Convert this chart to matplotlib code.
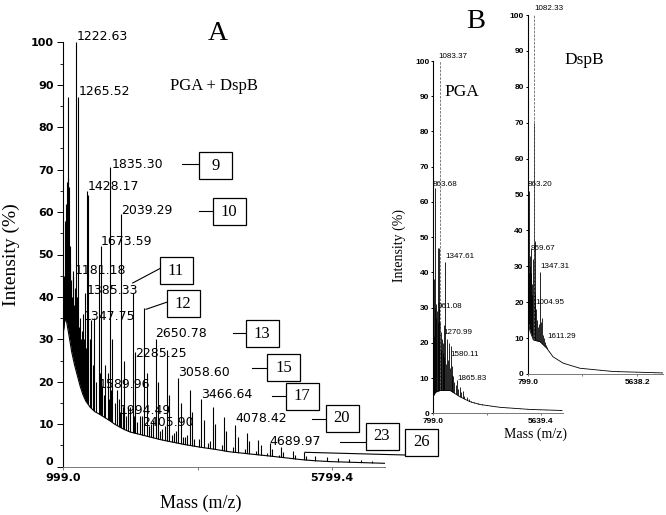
import matplotlib
matplotlib.use('Agg')
import matplotlib.pyplot as plt
import matplotlib.transforms as mtransforms
from matplotlib.patches import Rectangle
from matplotlib.lines import Line2D

# ---------------------------------------------------------------------------
# Data
# Panel A (PGA + DspB): peak m/z and intensity (%)
a_peak_mz = [1010, 1025, 1040, 1052, 1065, 1078, 1090, 1100, 1112, 1125,
             1140, 1155, 1168, 1181.18, 1195, 1208, 1222.63, 1238, 1252, 1265.52,
             1280, 1295, 1310, 1325, 1347.75, 1365, 1385.33, 1405, 1428.17, 1442,
             1468, 1495, 1525, 1553, 1589.96, 1628.8, 1650, 1673.59, 1700, 1728,
             1753, 1790, 1812, 1835.30, 1860, 1876, 1915, 1957, 1994.49, 2015,
             2039.29, 2060, 2079, 2120, 2160, 2197, 2242.5, 2265, 2285.25, 2325,
             2363, 2405.90, 2446, 2488, 2530, 2566, 2608, 2650.78, 2691, 2735,
             2770, 2812, 2854, 2895, 2935, 2975, 3016, 3058.60, 3100, 3140,
             3180, 3220, 3262, 3303, 3345, 3425, 3466.64, 3508, 3590, 3630,
             3670, 3711, 3834, 3874, 3915, 4038, 4078.42, 4120, 4242, 4282,
             4323, 4446, 4486, 4527, 4650, 4689.97, 4730, 4853, 4894, 4935,
             5098, 5140, 5301, 5342, 5505, 5709, 5913, 6117, 6321, 6525]
a_peak_int = [45, 58, 50, 62, 67, 87, 68, 66, 52, 48,
              44, 40, 46, 45, 38, 42, 100, 36, 40, 87,
              33, 35, 30, 32, 36, 30, 41, 28, 65, 64,
              30, 34.5, 24, 35, 20, 47.5, 22, 52, 19, 17,
              24, 22, 16, 70.5, 18, 30, 15, 18, 16, 13,
              59.5, 14, 25, 12, 14, 14, 41, 12, 27, 10.5,
              12, 12, 37.5, 22, 9.5, 10, 11, 30, 20, 8.5,
              9, 9.5, 27.5, 17, 7.5, 8, 8.5, 21, 15, 7,
              7, 7.5, 18, 13, 6.5, 6.5, 16, 11, 5.5, 6,
              14, 10, 5.2, 11.8, 8.5, 4.6, 9.8, 7, 4.2, 8,
              6, 3.6, 6.3, 5, 3.2, 5.5, 4.2, 2.8, 4.6, 3.5,
              3.6, 2.8, 3.4, 2.5, 2.6, 2.3, 2.0, 1.8, 1.6, 1.4]
a_base_mz = [999, 1003, 1030, 1060, 1100, 1150, 1200, 1260, 1300, 1350, 1400, 1480,
             1560, 1655, 1750, 1835, 1920, 2015, 2100, 2190, 2370, 2550, 2730, 2910,
             3180, 3445, 3710, 3980, 4340, 4700, 4970, 5230, 5500, 5770, 6250, 6750]
a_base_int = [0, 32, 35, 34, 31, 27, 24, 21, 19, 17, 15.5, 14,
              13, 12.3, 11.5, 10.8, 10, 9.3, 8.7, 8.2, 7.6, 7, 6.4, 5.9,
              5.2, 4.6, 4.1, 3.5, 3, 2.5, 2.1, 1.7, 1.4, 1.2, 1, 0.8]
a_labels = ['1222.63', '1265.52', '1835.30', '1428.17', '2039.29', '1673.59',
            '1181.18', '1385.33', '1347.75', '2650.78', '2285.25', '3058.60',
            '1589.96', '3466.64', '1994.49', '4078.42', '2405.90', '4689.97']
a_boxes = ['9', '10', '11', '12', '13', '15', '17', '20', '23', '26']

# Panel B, PGA
pga_peak_mz = [820, 845, 863.68, 880, 910, 940, 961.08, 990, 1020, 1040,
               1060, 1105, 1130, 1160, 1190, 1220, 1250, 1270.99, 1300, 1347.61,
               1380, 1420, 1460, 1500, 1540, 1580.11, 1620, 1660, 1700, 1750,
               1800, 1865.83, 1920, 1980, 2050, 2120, 2200, 2300, 2400, 2500,
               2650, 2800, 3000, 3200, 3400, 3600, 3850, 4100, 4400, 4700,
               5000, 5300, 5600, 5900, 6200, 6500]
pga_peak_int = [22, 38, 64, 30, 27, 31, 29, 26, 47, 47,
                30, 26, 23, 18, 21, 17, 20, 25, 16, 43,
                14, 21, 15, 20, 13, 19, 13.5, 11, 10.5, 9,
                8, 9.5, 7, 7.5, 6, 6.2, 5, 4.6, 4, 3.6,
                3.2, 3, 2.5, 2.3, 2.1, 1.9, 1.7, 1.6, 1.4, 1.3,
                1.2, 1.1, 1, 1, 0.9, 0.9]
pga_top_mz = [1083.37]
pga_top_int = [100]
pga_base_mz = [799, 805, 900, 1100, 1550, 2000, 2450, 2900, 3800, 5150, 6600]
pga_base_int = [0, 5, 6, 6.5, 6.5, 4.7, 3.3, 2.5, 1.7, 1.1, 0.8]
pga_labels = ['1083.37', '863.68', '1347.61', '961.08', '1270.99', '1580.11', '1865.83']

# Panel B, DspB
dsp_peak_mz = [815, 840, 863.20, 885, 915, 940, 959.67, 985, 1004.95, 1030,
               1060, 1090, 1100, 1130, 1160, 1200, 1240, 1290, 1347.31, 1380,
               1420, 1460, 1500, 1550, 1611.29, 1660, 1720, 1800, 1880, 1960,
               2050, 2150, 2300, 2450, 2600, 2800, 3000, 3300, 3600, 4000,
               4400, 4800, 5200, 5600, 6000, 6400, 6700]
dsp_peak_int = [20, 28, 51, 30, 33, 28, 35, 25, 22, 32,
                26, 70, 37, 22.5, 18, 15, 13, 14, 28.5, 14.6,
                15.6, 11, 10, 9, 8, 7.5, 6.5, 5.5, 5, 4.5,
                4, 3.5, 3, 2.6, 2.3, 2, 1.7, 1.4, 1.2, 1,
                0.8, 0.7, 0.6, 0.5, 0.5, 0.4, 0.4]
dsp_top_mz = [1082.33]
dsp_top_int = [100]
dsp_base_mz = [799, 808, 900, 1046, 1342, 1638, 1916, 2371, 3108, 4565, 6770]
dsp_base_int = [0, 15, 12, 9.5, 9, 7.2, 4.8, 3, 1.6, 0.7, 0.3]
dsp_labels = ['1082.33', '863.20', '959.67', '1347.31', '1004.95', '1611.29']

# ---------------------------------------------------------------------------
W, H = 666, 515
fig = plt.figure(figsize=(W / 100, H / 100), dpi=100)
fig.patch.set_facecolor('white')
# pixel coordinates, origin top-left
px = mtransforms.Affine2D().scale(1.0 / W, -1.0 / H).translate(0, 1) + fig.transFigure

SERIF = 'Liberation Serif'


def rect(l, t, r, b):
    return [l / W, 1 - b / H, (r - l) / W, (b - t) / H]


def spectrum(ax, mz, inten, base_mz, base_int, lw):
    ax.vlines(mz, 0, inten, colors='black', lw=lw, zorder=2)
    ax.fill_between(base_mz, 0, base_int, color='white', lw=0, zorder=3)
    ax.plot(base_mz, base_int, color='black', lw=lw, zorder=4)


def style(ax, xlim, xticks, xticklabels, family, size, ylen, ypad, xlen, xpad):
    ax.set_xlim(*xlim)
    ax.set_ylim(0, 100)
    ax.patch.set_visible(False)
    for s in ['top', 'right']:
        ax.spines[s].set_visible(False)
    ax.spines['left'].set_zorder(6)
    ax.spines['bottom'].set_zorder(6)
    ax.spines['left'].set_linewidth(0.8)
    ax.spines['bottom'].set_linewidth(0.7)
    ax.spines['bottom'].set_color('#777777')
    ax.set_yticks(range(0, 101, 10))
    ax.set_yticklabels([str(v) for v in range(0, 101, 10)])
    ax.set_xticks(xticks)
    ax.set_xticklabels(xticklabels)
    ax.tick_params(axis='y', length=ylen, width=0.7, pad=ypad)
    ax.tick_params(axis='x', length=xlen, width=0.7, pad=xpad, color='#777777')
    for t in ax.get_xticklabels() + ax.get_yticklabels():
        t.set_fontfamily(family)
        t.set_fontweight('bold')
        t.set_fontsize(size)


# ---------------- Panel A ----------------
axA = fig.add_axes(rect(63.3, 42.3, 385, 466.7))
spectrum(axA, a_peak_mz, a_peak_int, a_base_mz, a_base_int, 0.8)
style(axA, (999.0, 6752), [999.0, 3399.2, 5799.4], ['999.0', '', '5799.4'],
      'DejaVu Sans', 8, 4, 3, 2, 2.5)
axA.set_yticks(range(5, 100, 10), minor=True)
axA.tick_params(axis='y', which='minor', length=2, width=0.6)
# shift the "0" label up a touch so it clears "999.0" below it
axA.get_yticklabels()[0].set_verticalalignment('bottom')

fig.text(218, 34, 'A', transform=px, family=SERIF, fontsize=20, ha='center', va='center')
fig.text(213.5, 86, 'PGA + DspB', transform=px, family=SERIF, fontsize=12,
         ha='center', va='center')
fig.text(11, 255, 'Intensity (%)', transform=px, family=SERIF, fontsize=14,
         ha='center', va='center', rotation=90)
fig.text(201, 503, 'Mass (m/z)', transform=px, family=SERIF, fontsize=13,
         ha='center', va='center')

a_label_pos = [(77, 36.5), (79, 91.7), (111.7, 164), (88, 186.7), (121, 210.3),
               (101, 241.7), (75, 271), (86.7, 291), (83.3, 316.7), (155, 333.7),
               (135, 353.7), (178.3, 372.8), (99, 384.7), (200.7, 394.7), (120, 410),
               (235, 419), (141.7, 422), (269.3, 441.3)]
for s, (x, y) in zip(a_labels, a_label_pos):
    fig.text(x, y, s, transform=px, family='DejaVu Sans', fontsize=9,
             ha='left', va='center', zorder=7)

box_centers = [(215.5, 165), (229, 211), (176, 270.5), (183, 303), (262, 333.5),
               (283.5, 367.5), (302, 396), (342, 418), (382, 436), (421.5, 442)]
for s, (cx, cy) in zip(a_boxes, box_centers):
    fig.add_artist(Rectangle((cx - 16.5, cy - 13.5), 33, 27, transform=px,
                             facecolor='white', edgecolor='black', lw=0.9, zorder=7))
    fig.text(cx, cy + 0.5, s, transform=px, family=SERIF, fontsize=12,
             ha='center', va='center', zorder=8)

connectors = [((181.7, 164.3), (199, 164.3)), ((199, 210.7), (213, 210.7)),
              ((132.7, 283), (160, 268.5)), ((146, 309.3), (166.5, 302.3)),
              ((232.7, 333.3), (245.5, 333.3)), ((252.3, 368.3), (266, 368.3)),
              ((271.7, 395.7), (285.5, 395.7)), ((311.7, 419), (325.5, 419)),
              ((340, 441.7), (365.5, 441.7)), ((305, 452.3), (405, 455))]
for (x1, y1), (x2, y2) in connectors:
    fig.add_artist(Line2D([x1, x2], [y1, y2], transform=px, color='black',
                          lw=0.8, zorder=6))

# ---------------- Panel B, PGA ----------------
axP = fig.add_axes(rect(433.3, 61, 563.3, 413.3))
spectrum(axP, pga_peak_mz, pga_peak_int, pga_base_mz, pga_base_int, 0.6)
axP.vlines(pga_top_mz, 0, pga_top_int, colors='#666666', lw=0.6,
           linestyles=(0, (3, 1.5)), zorder=2)
style(axP, (799.0, 6658), [799.0, 3219.2, 5639.4], ['799.0', '', '5639.4'],
      'Liberation Sans', 6, 1.7, 1.2, 1.5, 2)

# ---------------- Panel B, DspB ----------------
axD = fig.add_axes(rect(527.7, 15, 663, 374))
spectrum(axD, dsp_peak_mz, dsp_peak_int, dsp_base_mz, dsp_base_int, 0.6)
axD.vlines(dsp_top_mz, 0, dsp_top_int, colors='#666666', lw=0.6,
           linestyles=(0, (3, 1.5)), zorder=2)
style(axD, (799.0, 6773), [799.0, 3218.6, 5638.2], ['799.0', '', '5638.2'],
      'Liberation Sans', 6, 1.7, 1.2, 1.5, 2)

fig.text(475.5, 22, 'B', transform=px, family=SERIF, fontsize=20.5, ha='center', va='center')
fig.text(462, 91.5, 'PGA', transform=px, family=SERIF, fontsize=12.5, ha='center', va='center')
fig.text(584.5, 60, 'DspB', transform=px, family=SERIF, fontsize=12.5, ha='center', va='center')
fig.text(399, 246, 'Intensity (%)', transform=px, family=SERIF, fontsize=10,
         ha='center', va='center', rotation=90)
fig.text(535.5, 434, 'Mass (m/z)', transform=px, family=SERIF, fontsize=10,
         ha='center', va='center')

pga_label_pos = [(438, 56), (433, 185), (445, 256), (438, 307), (443, 332),
                 (450, 354), (457, 378)]
for s, (x, y) in zip(pga_labels, pga_label_pos):
    fig.text(x, y, s, transform=px, family='Liberation Sans', fontsize=5.8,
             ha='left', va='center', zorder=7)
dsp_label_pos = [(534, 9), (528, 185), (531, 249), (540, 267), (535, 302), (547, 336)]
for s, (x, y) in zip(dsp_labels, dsp_label_pos):
    fig.text(x, y, s, transform=px, family='Liberation Sans', fontsize=5.8,
             ha='left', va='center', zorder=7)

fig.savefig('out.png', dpi=100)
